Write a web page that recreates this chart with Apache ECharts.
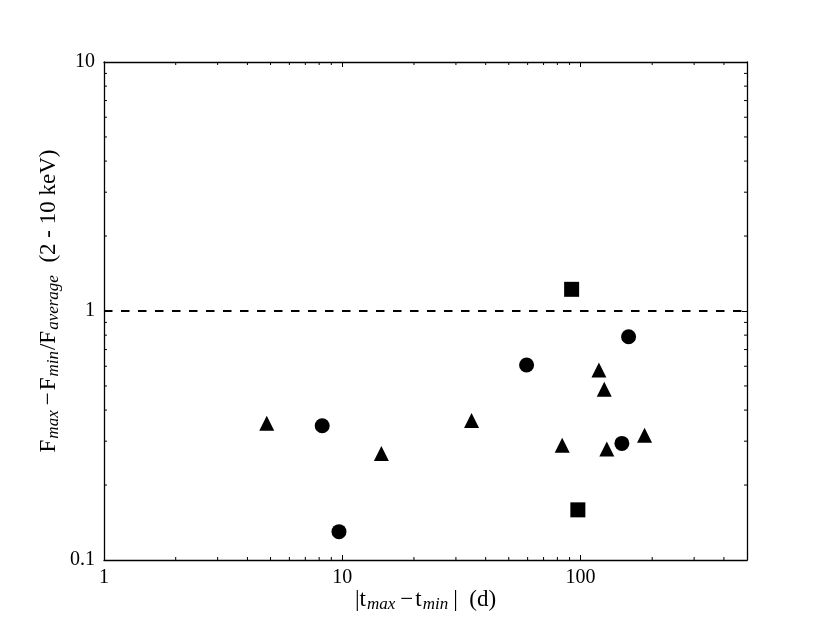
<!DOCTYPE html>
<html>
<head>
<meta charset="utf-8">
<script src="https://cdn.jsdelivr.net/npm/echarts@6/dist/echarts.min.js"></script>
<style>
html, body { margin: 0; padding: 0; background: #fff; }
#chart { width: 830px; height: 623px; }
</style>
</head>
<body>
<div id="chart"></div>
<script>
// triangles
var triX = [4.82, 14.6, 34.9, 83.8, 119.5, 125.8, 129, 185.8];
var triY = [0.354, 0.268, 0.363, 0.289, 0.579, 0.485, 0.279, 0.317];
// circles
var circX = [8.24, 9.69, 59.4, 149.2, 159.2];
var circY = [0.346, 0.130, 0.607, 0.294, 0.788];
// squares
var sqX = [91.8, 97.5];
var sqY = [1.222, 0.159];
// reference level
var refY = 1;
var xRange = [1, 500];
var yRange = [0.1, 10];
// minor ticks
var xMinor = [2, 3, 4, 5, 6, 7, 8, 9, 20, 30, 40, 50, 60, 70, 80, 90, 200, 300, 400];
var yMinor = [0.2, 0.3, 0.4, 0.5, 0.6, 0.7, 0.8, 0.9, 2, 3, 4, 5, 6, 7, 8, 9];

function pairs(xs, ys) {
	var out = [];
	for (var i = 0; i < xs.length; i++) out.push([xs[i], ys[i]]);
	return out;
}

var font = 'Liberation Serif';
var myChart = echarts.init(document.getElementById('chart'));

var axisCommon = {
	type: 'log',
	logBase: 10,
	axisLine: { show: true, lineStyle: { color: '#000', width: 1.3 } },
	axisTick: { show: true, inside: true, length: 5, lineStyle: { color: '#000', width: 1 } },
	splitLine: { show: false },
	minorTick: { show: false },
	minorSplitLine: { show: false }
};

var richText = {
	a: { fontFamily: font, fontSize: 23, lineHeight: 26, color: '#000' },
	m: { fontFamily: font, fontSize: 23, lineHeight: 26, padding: [0, 2, 0, 4], color: '#000' },
	b: { fontFamily: font, fontSize: 23, lineHeight: 26, padding: [0, 0, 0, 4], color: '#000' },
	s: { fontFamily: font, fontSize: 17, fontStyle: 'italic', lineHeight: 17, padding: [9, 1, 0, 1], color: '#000' }
};

option = {
	animation: false,
	backgroundColor: '#fff',
	grid: {
		left: 104,
		right: 83,
		top: 62,
		bottom: 63,
		containLabel: false
	},
	xAxis: [
		Object.assign({}, axisCommon, {
			position: 'bottom',
			min: xRange[0],
			max: xRange[1],
			name: '{a||t}{s|max}{m|\u2212}{a|t}{s|min}{b||  (d)}',
			nameLocation: 'middle',
			nameGap: 27,
			nameMoveOverlap: false,
			nameTextStyle: { rich: richText },
			axisLabel: { show: true, margin: 8, showMaxLabel: false, fontFamily: font, fontSize: 20, color: '#000' }
		}),
		Object.assign({}, axisCommon, {
			position: 'top',
			min: xRange[0],
			max: xRange[1],
			axisLabel: { show: false }
		})
	],
	yAxis: [
		Object.assign({}, axisCommon, {
			position: 'left',
			min: yRange[0],
			max: yRange[1],
			name: '{a|F}{s|max}{m|\u2212}{a|F}{s|min}{a|/F}{s|average}{a|  (2 - 10 keV)}',
			nameLocation: 'middle',
			nameGap: 42,
			nameMoveOverlap: false,
			nameTextStyle: { rich: richText, padding: [0, 0, 0, 20] },
			axisLabel: { show: true, margin: 9, fontFamily: font, fontSize: 20, color: '#000' }
		}),
		Object.assign({}, axisCommon, {
			position: 'right',
			min: yRange[0],
			max: yRange[1],
			axisLabel: { show: false }
		})
	],
	series: [
		{
			name: 'ref',
			type: 'line',
			data: [[xRange[0], refY], [xRange[1], refY]],
			symbol: 'none',
			lineStyle: { color: '#000', width: 2, type: [8.5, 8.5] },
			silent: true
		},
		{
			name: 'triangles',
			type: 'scatter',
			symbol: 'triangle',
			symbolSize: 15,
			itemStyle: { color: '#000', opacity: 1 },
			data: pairs(triX, triY)
		},
		{
			name: 'circles',
			type: 'scatter',
			symbol: 'circle',
			symbolSize: 15,
			itemStyle: { color: '#000', opacity: 1 },
			data: pairs(circX, circY)
		},
		{
			name: 'squares',
			type: 'scatter',
			symbol: 'rect',
			symbolSize: 15,
			itemStyle: { color: '#000', opacity: 1 },
			data: pairs(sqX, sqY)
		},
		{
			// x minor ticks, bottom and top
			type: 'custom',
			silent: true,
			clip: false,
			data: xMinor.map(function(v) { return [v, yRange[0]]; }),
			renderItem: function(params, api) {
				var b = api.coord([api.value(0), yRange[0]]);
				var t = api.coord([api.value(0), yRange[1]]);
				var st = { stroke: '#000', lineWidth: 1 };
				return {
					type: 'group',
					children: [
						{ type: 'line', shape: { x1: b[0], y1: b[1], x2: b[0], y2: b[1] - 3 }, style: st },
						{ type: 'line', shape: { x1: t[0], y1: t[1], x2: t[0], y2: t[1] + 3 }, style: st }
					]
				};
			}
		},
		{
			// y minor ticks, left and right
			type: 'custom',
			silent: true,
			clip: false,
			data: yMinor.map(function(v) { return [xRange[0], v]; }),
			renderItem: function(params, api) {
				var l = api.coord([xRange[0], api.value(1)]);
				var r = api.coord([xRange[1], api.value(1)]);
				var st = { stroke: '#000', lineWidth: 1 };
				return {
					type: 'group',
					children: [
						{ type: 'line', shape: { x1: l[0], y1: l[1], x2: l[0] + 3, y2: l[1] }, style: st },
						{ type: 'line', shape: { x1: r[0], y1: r[1], x2: r[0] - 3, y2: r[1] }, style: st }
					]
				};
			}
		}
	]
};
myChart.setOption(option);
</script>
</body>
</html>
